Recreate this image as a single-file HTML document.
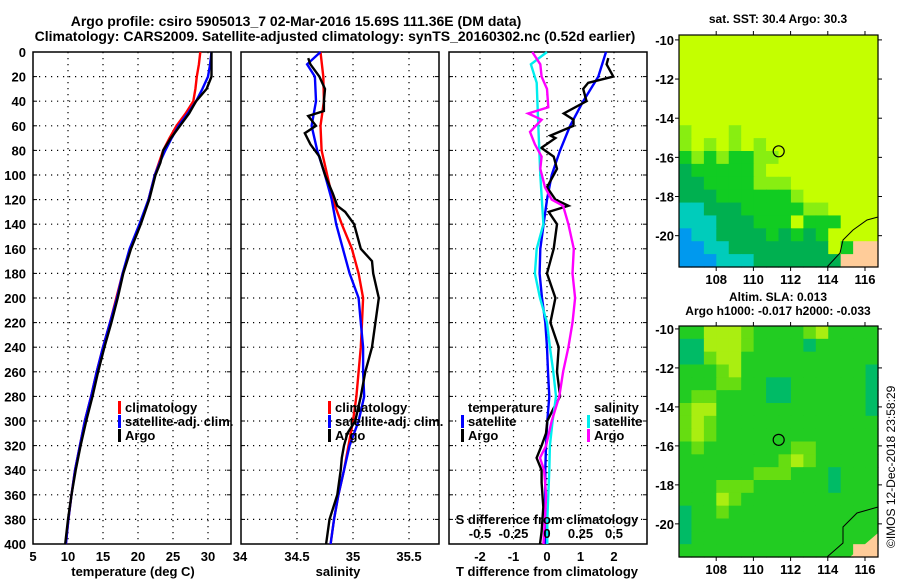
<!DOCTYPE html>
<html><head><meta charset="utf-8"><style>
html,body{margin:0;padding:0;background:#fff;}
svg{display:block;font-family:"Liberation Sans",sans-serif;font-weight:bold;}
</style></head><body>
<svg id="fig" width="900" height="580" viewBox="0 0 900 580" xmlns="http://www.w3.org/2000/svg">
<text x="296" y="26" text-anchor="middle" font-size="14">Argo profile: csiro 5905013_7 02-Mar-2016 15.69S 111.36E (DM data)</text>
<text x="335" y="41" text-anchor="middle" font-size="14">Climatology: CARS2009. Satellite-adjusted climatology: synTS_20160302.nc (0.52d earlier)</text>
<g id="p1"></g>
<g id="p2"></g>
<g id="p3"></g>
<g id="m1"></g>
<g id="m2"></g>
<text transform="translate(895,548) rotate(-90)" font-size="12" font-weight="normal">©IMOS 12-Dec-2018 23:58:29</text>
</svg>
<script>
// ---- data ----
const depthTemp = [0,10,20,30,40,50,60,70,80,90,100,120,140,160,180,200,220,240,260,280,300,320,340,360,380,400];
const climTemp = [28.9,28.7,28.4,28.2,27.9,26.8,25.5,24.5,23.6,23.0,22.4,21.5,20.3,18.9,17.8,16.9,16.0,15.0,14.1,13.3,12.4,11.7,11.0,10.5,10.05,9.7];
const satTemp = [30.5,30.3,30.0,29.2,28.3,27.1,25.8,24.8,23.9,23.1,22.4,21.5,20.2,18.8,17.8,17.0,16.0,15.0,14.1,13.3,12.4,11.7,11.0,10.5,10.05,9.7];
const argoTemp = [30.5,30.5,30.5,29.8,28.3,27.3,26.0,24.7,23.6,23.2,22.5,21.6,20.4,19.0,17.9,17.1,16.2,15.2,14.3,13.5,12.6,11.8,11.1,10.5,10.0,9.6];
const depthClimSal = [0,20,40,60,80,100,120,140,160,180,200,220,240,260,280,300,320,340,360,380,400];
const climSal = [34.71,34.735,34.74,34.71,34.72,34.77,34.82,34.90,34.99,35.05,35.09,35.08,35.07,35.05,35.03,35.00,34.96,34.92,34.87,34.83,34.80];
const depthSatSal = [0,10,20,40,60,80,100,120,140,160,180,200,220,240,260,280,300,320,340,360,380,400];
const satSal = [34.71,34.59,34.66,34.67,34.63,34.68,34.75,34.81,34.85,34.91,34.97,35.05,35.07,35.09,35.09,35.10,35.05,34.97,34.92,34.87,34.83,34.80];
const depthArgoSal = [5,10,20,30,40,48,52,60,66,75,85,100,115,125,130,140,160,170,180,200,220,240,260,280,300,310,320,330,340,360,380,400];
const argoSal = [34.60,34.62,34.70,34.75,34.74,34.74,34.60,34.67,34.57,34.62,34.70,34.75,34.82,34.86,34.93,35.01,35.07,35.17,35.18,35.23,35.20,35.17,35.11,35.07,35.02,34.95,34.92,34.90,34.89,34.86,34.79,34.76];
const depthSatTDiff = [0,20,40,60,80,100,120,140,160,180,200,220,240,260,280,300,320,340,360,380,400];
const satTDiff = [1.76,1.53,1.08,0.69,0.39,0.14,0,-0.1,-0.2,-0.22,-0.15,-0.05,0,0.03,0.07,0.01,-0.03,-0.05,-0.05,-0.06,-0.05];
const depthArgoTDiff = [5,10,20,25,30,40,50,55,60,68,70,78,85,95,110,120,125,130,140,160,180,200,220,240,260,280,290,300,310,320,330,340,350,370,390,400];
const argoTDiff = [1.83,1.78,1.98,1.23,1.08,1.18,0.5,0.79,0.79,0.1,0.25,-0.17,0.2,0.3,0,0.25,0.64,0.05,0.3,0.2,0,0.25,0.1,0.35,0.3,0.39,0.19,0.01,-0.03,-0.16,-0.31,-0.16,-0.16,-0.11,-0.16,-0.21];
const depthSatSDiff = [0,10,25,60,100,140,160,180,200,220,240,260,280,300,320,340,360,380,400];
const satSDiff = [0,-0.12,-0.077,-0.065,-0.05,-0.027,-0.077,-0.09,-0.052,0,0.022,0.047,0.067,0.042,0.022,0.017,0.01,0.002,0.002];
const depthArgoSDiff = [0,10,20,30,45,50,55,65,75,85,95,110,120,125,140,160,180,200,220,240,260,280,300,320,330,340,360,380,400];
const argoSDiff = [-0.11,-0.05,-0.04,0,0.01,-0.14,-0.04,-0.127,-0.09,-0.04,-0.05,-0.015,0.035,0.12,0.16,0.2,0.19,0.21,0.19,0.16,0.12,0.092,0.035,-0.007,-0.052,-0.022,-0.007,-0.015,-0.027];
const depthTicks = [0,20,40,60,80,100,120,140,160,180,200,220,240,260,280,300,320,340,360,380,400];
const tempTicks = [5,10,15,20,25,30];
const salTicks = [34.5,35,35.5];
const tDiffTicks = [-2,-1,0,1,2];
const sDiffTicks = [-0.5,-0.25,0,0.25,0.5];
const sDiffLabels = ["-0.5","-0.25","0","0.25","0.5"];
const lonTicks = [108,110,112,114,116];
const latTicks = [-10,-12,-14,-16,-18,-20];
const sstGrid = [
"0000000000000000","0000000000000000","0000000000000000","0000000000000000",
"0000000000000000","0000000000000000","0000000000000000","1000100000000000",
"1010101000000000","2121221100000000","3222221000000000","3322221110000000",
"3332222221000000","4433322222110000","4443332220222000","5443333232320000",
"5544333333330266","5554443333333666"];
const slaGrid = [
"0022210000120000","3322210000300000","3312200000000000","0001200000000003",
"0001100330000003","0110000330000003","1220000000000003","1210000000000000",
"1210000000000000","0100000001100000","0000000012100000","0000001110003000",
"0001110000003000","0002100000000000","3001000000000000","3000000000000000",
"3000000000000000","0000000000000066"];
const sstPalette = ["#c4ff00","#88ee11","#11cc22","#00b050","#00ccbb","#0099ee"];
const slaPalette = ["#22cc22","#66dd11","#aaee11","#00bb66"];

// ---- helpers ----
const NS = "http://www.w3.org/2000/svg";
function mk(tag, attrs, parent){ const e=document.createElementNS(NS,tag); for(const k in attrs) e.setAttribute(k,attrs[k]); parent.appendChild(e); return e; }
const Y0=52, Y1=544;
const yD = d => Y0 + d*(Y1-Y0)/400;
const xT = v => 33 + (v-5)*7;
const xS = v => 241 + (v-34)*112;
const xTd = v => 547 + v*33.5;
const xSd = v => 547 + v*134;

function panel(g, left, right, vticksX, xLabels, labelVals, showY){
  for(const d of depthTicks){
    if(d>0 && d<400){
      const l=mk('line',{x1:left,x2:right,y1:yD(d),y2:yD(d),stroke:'#000','stroke-width':1.2,'stroke-dasharray':'1.2 4.8'},g);
      
      
    }
    mk('line',{x1:left,x2:left+4,y1:yD(d),y2:yD(d),stroke:'#000'},g);
    mk('line',{x1:right-4,x2:right,y1:yD(d),y2:yD(d),stroke:'#000'},g);
    if(showY){
      const t=mk('text',{x:26,y:yD(d)+5,'text-anchor':'end','font-size':13},g);
      t.textContent=d;
      
      
    }
  }
  for(const x of vticksX){
    const l=mk('line',{x1:x,x2:x,y1:Y0,y2:Y1,stroke:'#000','stroke-width':1.2,'stroke-dasharray':'1.2 4.8'},g);
    
    
  }
  xLabels.forEach((lab,i)=>{
    const t=mk('text',{x:labelVals[i],y:561,'text-anchor':'middle','font-size':13},g);
    t.textContent=lab;
    
    
  });
  const r=mk('rect',{x:left,y:Y0,width:right-left,height:Y1-Y0,fill:'none',stroke:'#000','stroke-width':1.5},g);
  
  
}
function line(g, xs, ds, fx, color, name){
  const pts = xs.map((v,i)=>fx(v).toFixed(1)+','+yD(ds[i]).toFixed(1)).join(' ');
  const p=mk('polyline',{points:pts,fill:'none',stroke:color,'stroke-width':2.4,'stroke-linejoin':'miter'},g);
  
  
}
function legendItem(g, x, y, label, color){
  if(color){
    const b=mk('rect',{x:x,y:y-11,width:3,height:13,fill:color},g);
    
    
  }
  const t=mk('text',{x:x+7,y:y,'font-size':13},g);
  t.textContent=label;
  
  
}
function txt(g,x,y,s,anchor,size,name){
  const t=mk('text',{x:x,y:y,'text-anchor':anchor,'font-size':size},g);
  t.textContent=s;
  
  
}

// ---- panel 1 ----
const p1=document.getElementById('p1');
panel(p1,33,231,tempTicks.slice(1).map(xT),tempTicks.map(String),tempTicks.map(xT),true);
txt(p1,240,561,"34","middle",13,'x-tick-label');
line(p1,climTemp,depthTemp,xT,'#ff0000','climatology-temperature-line');
line(p1,satTemp,depthTemp,xT,'#0000ff','satellite-temperature-line');
line(p1,argoTemp,depthTemp,xT,'#000000','argo-temperature-line');
legendItem(p1,118,412,"climatology","#f00");
legendItem(p1,118,426,"satellite-adj. clim.","#00f");
legendItem(p1,118,440,"Argo","#000");
txt(p1,133,576,"temperature (deg C)","middle",13,'x-axis-title');

// ---- panel 2 ----
const p2=document.getElementById('p2');
panel(p2,241,439,salTicks.map(xS),salTicks.map(String),salTicks.map(xS),false);
line(p2,climSal,depthClimSal,xS,'#ff0000','climatology-salinity-line');
line(p2,satSal,depthSatSal,xS,'#0000ff','satellite-salinity-line');
line(p2,argoSal,depthArgoSal,xS,'#000000','argo-salinity-line');
legendItem(p2,328,412,"climatology","#f00");
legendItem(p2,328,426,"satellite-adj. clim.","#00f");
legendItem(p2,328,440,"Argo","#000");
txt(p2,338,576,"salinity","middle",13,'x-axis-title');

// ---- panel 3 ----
const p3=document.getElementById('p3');
panel(p3,449,647,tDiffTicks.map(xTd),tDiffTicks.map(String),tDiffTicks.map(xTd),false);
line(p3,satTDiff,depthSatTDiff,xTd,'#0000ff','satellite-t-diff-line');
line(p3,argoTDiff,depthArgoTDiff,xTd,'#000000','argo-t-diff-line');
line(p3,satSDiff,depthSatSDiff,xSd,'#00eeee','satellite-s-diff-line');
line(p3,argoSDiff,depthArgoSDiff,xSd,'#ff00ff','argo-s-diff-line');
txt(p3,468,412,"temperature","start",13,'legend-title-temperature');
legendItem(p3,461,426,"satellite","#00f");
legendItem(p3,461,440,"Argo","#000");
txt(p3,594,412,"salinity","start",13,'legend-title-salinity');
legendItem(p3,587,426,"satellite","#0ee");
legendItem(p3,587,440,"Argo","#f0f");
txt(p3,547,524,"S difference from climatology","middle",13,'s-axis-title');
sDiffTicks.forEach((v,i)=>txt(p3,xSd(v),538,sDiffLabels[i],"middle",13,'s-tick-label'));
txt(p3,547,576,"T difference from climatology","middle",13,'x-axis-title');

// ---- maps ----
function map(gid, top, bottom, latTop, latBot, grid, pal, cx, cy, coast, land, t1, t2){
  const g=document.getElementById(gid);
  const L=679,R=878, lon0=106.0, lon1=116.7;
  const xl = v => L + (v-lon0)*(R-L)/(lon1-lon0);
  const yl = v => top + (latTop - v)*(bottom-top)/(latTop-latBot);
  const cw=(R-L)/16, ch=(bottom-top)/grid.length;
  grid.forEach((row,r)=>{
    for(let c=0;c<row.length;c++){
      const k=+row[c];
      const col = k===6 ? '#ffcc99' : pal[k];
      const cell=mk('rect',{x:(L+c*cw).toFixed(2),y:(top+r*ch).toFixed(2),width:(cw+0.6).toFixed(2),height:(ch+0.6).toFixed(2),fill:col},g);
      
      
    }
  });
  const lp=mk('polygon',{points:land,fill:'#ffcc99'},g);
  
  
  const cl=mk('polyline',{points:coast,fill:'none',stroke:'#000','stroke-width':1},g);
  
  
  const ci=mk('circle',{cx:xl(cx),cy:yl(cy),r:5.5,fill:'none',stroke:'#000','stroke-width':1.2},g);
  
  
  const fr=mk('rect',{x:L,y:top,width:R-L,height:bottom-top,fill:'none',stroke:'#000','stroke-width':1.2},g);
  
  
  for(const v of lonTicks){
    mk('line',{x1:xl(v),x2:xl(v),y1:top-4,y2:top,stroke:'#000'},g);
    mk('line',{x1:xl(v),x2:xl(v),y1:bottom,y2:bottom+4,stroke:'#000'},g);
    txt(g,xl(v),bottom+17,String(v),"middle",13,'lon-tick-label');
  }
  for(const v of latTicks){
    mk('line',{x1:L-4,x2:L,y1:yl(v),y2:yl(v),stroke:'#000'},g);
    mk('line',{x1:R,x2:R+4,y1:yl(v),y2:yl(v),stroke:'#000'},g);
    txt(g,L-5,yl(v)+5,String(v),"end",13,'lat-tick-label');
  }
  txt(g,778,t1[1],t1[0],"middle",12,'map-title');
  if(t2) txt(g,778,t2[1],t2[0],"middle",12,'map-subtitle');
}
map('m1',35,267,-9.75,-21.6,sstGrid,sstPalette,111.36,-15.69,
  "827,267 840,253 843,240 853,230 867,220 878,217","853,267 878,247 878,267",
  ["sat. SST: 30.4 Argo: 30.3",23],null);
map('m2',326,557,-9.85,-21.7,slaGrid,slaPalette,111.36,-15.69,
  "827,557 843,543 843,527 857,513 878,507","850,557 878,533 878,557",
  ["Altim. SLA: 0.013",301],["Argo h1000: -0.017 h2000: -0.033",315]);
</script>
</body></html>
